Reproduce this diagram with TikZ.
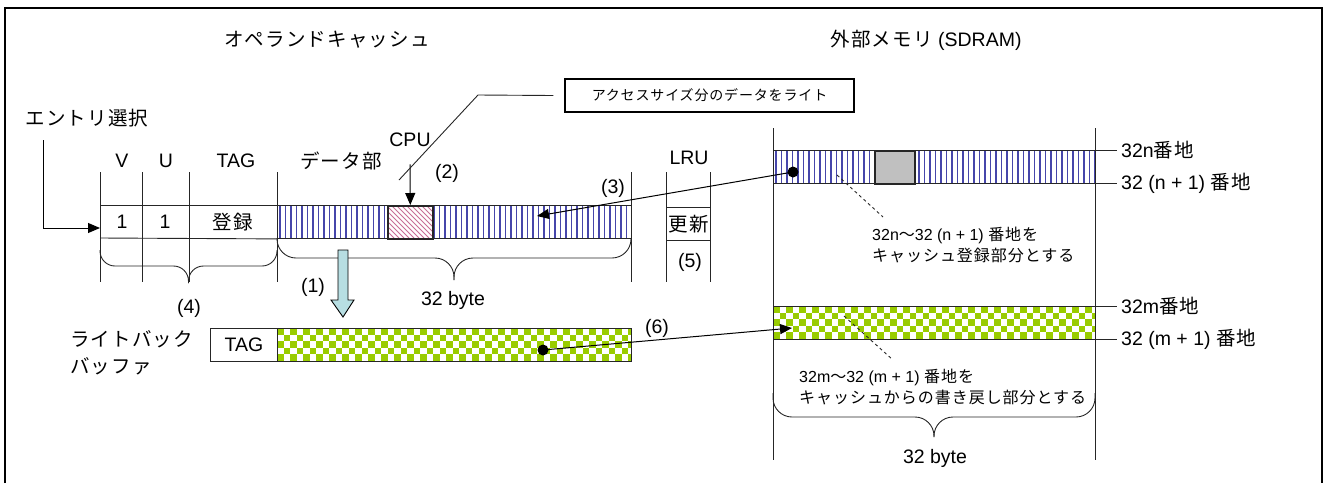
\documentclass[tikz,border=0pt]{standalone}
\usepackage{fontspec}
\setmainfont{Liberation Sans}
\newfontfamily\jp[LetterSpace=6]{Noto Sans CJK JP}
\usetikzlibrary{positioning,arrows.meta,calc}

\definecolor{stripeblue}{RGB}{70,70,170}
\definecolor{hatchpink}{RGB}{200,110,150}
\definecolor{checkgreen}{RGB}{153,204,0}
\definecolor{arrowcyan}{RGB}{183,222,226}
\definecolor{blockgray}{RGB}{192,192,192}

\begin{document}
\begin{tikzpicture}[
    x=1pt, y=-1pt,
    font=\fontsize{19.5}{23}\selectfont,
    ln/.style={line width=0.9pt, black!85},
    cell/.style={draw=black!85, line width=0.9pt, minimum height=33pt, inner sep=0pt},
    stripe/.style={stripeblue, line width=1.3pt},
    hatchln/.style={hatchpink, line width=0.9pt},
    check/.style={fill=checkgreen},
    ar/.style={-{Triangle[length=12pt,width=10pt]}, line width=1pt},
    note/.style={font=\fontsize{16}{21}\selectfont, align=left, inner sep=0pt},
]
\useasboundingbox (0,0) rectangle (1324,483);
% --- frame and titles ---
\draw[line width=2pt] (5,483) -- (5,8) -- (1322,8) -- (1322,483);
\node (tcache) at (327,40) {\jp オペランドキャッシュ};
\node (tmem) at (926,40) {{\jp 外部メモリ} (SDRAM)};

% --- fills: stripes, hatch, checks ---
\begin{scope}
  \clip (277,205) rectangle (631,238) (773,150) rectangle (1095,183);
  \foreach \sx in {280,285.5,...,631}{\draw[stripe] (\sx,205) -- (\sx,238);}
  \foreach \sx in {776,781.5,...,1095}{\draw[stripe] (\sx,150) -- (\sx,183);}
\end{scope}
\fill[white] (387,205) rectangle (432,238);
\begin{scope}
  \clip (387,205) rectangle (432,238);
  \foreach \k in {-36,-31,...,45}{\draw[hatchln] (387+\k,205) -- ++(33,33);}
\end{scope}
\begin{scope}
  \clip (277,328) rectangle (631,361) (773,306) rectangle (1095,339);
  \foreach \cx in {277,290,...,631}{
    \foreach \cy in {328,341,354}{
      \fill[check] (\cx,\cy) rectangle ++(6.5,6.5);
      \fill[check] (\cx+6.5,\cy+6.5) rectangle ++(6.5,6.5);}}
  \foreach \cx in {773,786,...,1095}{
    \foreach \cy in {306,319,332}{
      \fill[check] (\cx,\cy) rectangle ++(6.5,6.5);
      \fill[check] (\cx+6.5,\cy+6.5) rectangle ++(6.5,6.5);}}
\end{scope}

% --- operand cache line ---
\foreach \cx in {100,142,189,277,631,666,710}{\draw[ln] (\cx,172) -- (\cx,282);}
\node (hV) at (122,161) {V};
\node (hU) at (166,161) {U};
\node (hTag) at (236,161) {TAG};
\node (hData) at (341,161) {\jp データ部};
\node (hLru) at (689,158) {LRU};
\node (entry) at (87,118) {\jp エントリ選択};
\node[cell, minimum width=354pt, anchor=north west] (data) at (277,205) {};
\node[cell, line width=1.6pt, minimum width=45pt, anchor=north west] (wr) at (387,205) {};
\draw[ln] (100,205) -- (data.north west);
\draw[ln] (100,238) -- (data.south west);
\node (v1) at (122,222) {1};
\node (u1) at (165,222) {1};
\node (tag1) at (233,222) {\jp 登録};
\node[cell, minimum width=44pt, anchor=north west] (lru) at (666,207) {\jp 更新};
\coordinate (e0) at (43,140);
\draw[ar] (e0) |- (100,228);

% --- CPU write and callout ---
\node (cpu) at (410,140) {CPU};
\draw[ar, shorten <=14pt] (cpu.south) -- (wr.north);
\node[draw, line width=1.2pt, minimum width=289pt, minimum height=33pt,
      font=\fontsize{14}{16}\selectfont\jp] (callout) at (709.5,95.5) {アクセスサイズ分のデータをライト};
\coordinate (cq) at (399,180);
\coordinate (ck) at (478,95);
\draw[ln] (cq) -- (ck) -- ([xshift=-11pt]callout.west);
\node (n2) at (447,173) {(2)};
\node (n3) at (613,188) {(3)};
\node (n5) at (690,262) {(5)};

% --- braces ---
\foreach \xa/\xb/\ya/\yb/\yc/\r in {100/277/250/266/283/15, 277/631/238/258/280/19, 773/1095/393/417/437/19}{
  \pgfmathsetmacro\xm{(\xa+\xb)/2}
  \draw[ln, rounded corners=\r pt] (\xa,\ya) |- (\xm,\yb) -- (\xm,\yc);
  \draw[ln, rounded corners=\r pt] (\xb,\ya) |- (\xm,\yb) -- (\xm,\yc);
}
\node (n4) at (189,308) {(4)};
\node (bytec) at (453,300) {32 byte};
\node (bytem) at (935,458) {32 byte};

% --- write-back buffer ---
\draw[line width=0.9pt, fill=arrowcyan] (338,250) -- (348,250) -- (348,300) -- (354,300)
  -- (343,317) -- (331,300) -- (338,300) -- cycle;
\node (n1) at (313,287) {(1)};
\node[align=left, inner sep=0pt, anchor=north west, font=\fontsize{19.5}{27}\selectfont\jp] (wblbl) at (70,330)
  {ライトバック\\バッファ};
\node[cell, minimum width=67pt, anchor=north west] (wbtag) at (210,328) {TAG};
\node[cell, minimum width=354pt, anchor=north west] (wbdata) at (277,328) {};

% --- external memory ---
\foreach \cx in {773,1095}{\draw[ln] (\cx,128) -- (\cx,460);}
\node[cell, minimum width=322pt, anchor=north west] (rown) at (773,150) {};
\node[cell, fill=blockgray, line width=1.6pt, minimum width=40pt, anchor=north west] (blk) at (874,150) {};
\node[cell, minimum width=322pt, anchor=north west] (rowm) at (773,306) {};
\foreach \nm/\yy/\tx in {a0/150/{32n{\jp 番地}}, a1/183/{32 (n + 1) {\jp 番地}},
                         a2/306/{32m{\jp 番地}}, a3/339/{32 (m + 1) {\jp 番地}}}{
  \draw[ln] (1095,\yy) -- (1117,\yy);
  \node[inner sep=0pt, anchor=west] (\nm) at (1121,\yy) {\tx};
}
\coordinate (dq0) at (837,175);
\coordinate (dq1) at (883,217);
\coordinate (dm0) at (844,316);
\coordinate (dm1) at (893,360);
\draw[ln, dash pattern=on 3pt off 3pt] (dq0) -- (dq1);
\draw[ln, dash pattern=on 3pt off 3pt] (dm0) -- (dm1);
\node[note, anchor=north west] (noten) at (872,227)
  {32n{\jp 〜}32 (n + 1) {\jp 番地を}\\{\jp キャッシュ登録部分とする}};
\node[note, anchor=north west] (notem) at (799,369)
  {32m{\jp 〜}32 (m + 1) {\jp 番地を}\\{\jp キャッシュからの書き戻し部分とする}};

% --- transfers ---
\coordinate (dn) at (793,172);
\coordinate (hit) at (537,216);
\fill (dn) circle (5.5pt);
\draw[ar] (dn) -- (hit);
\coordinate (dw) at (543,350);
\coordinate (put) at (792,328);
\fill (dw) circle (5.5pt);
\draw[ar] (dw) -- (put);
\node (n6) at (657,328) {(6)};
\end{tikzpicture}
\end{document}
